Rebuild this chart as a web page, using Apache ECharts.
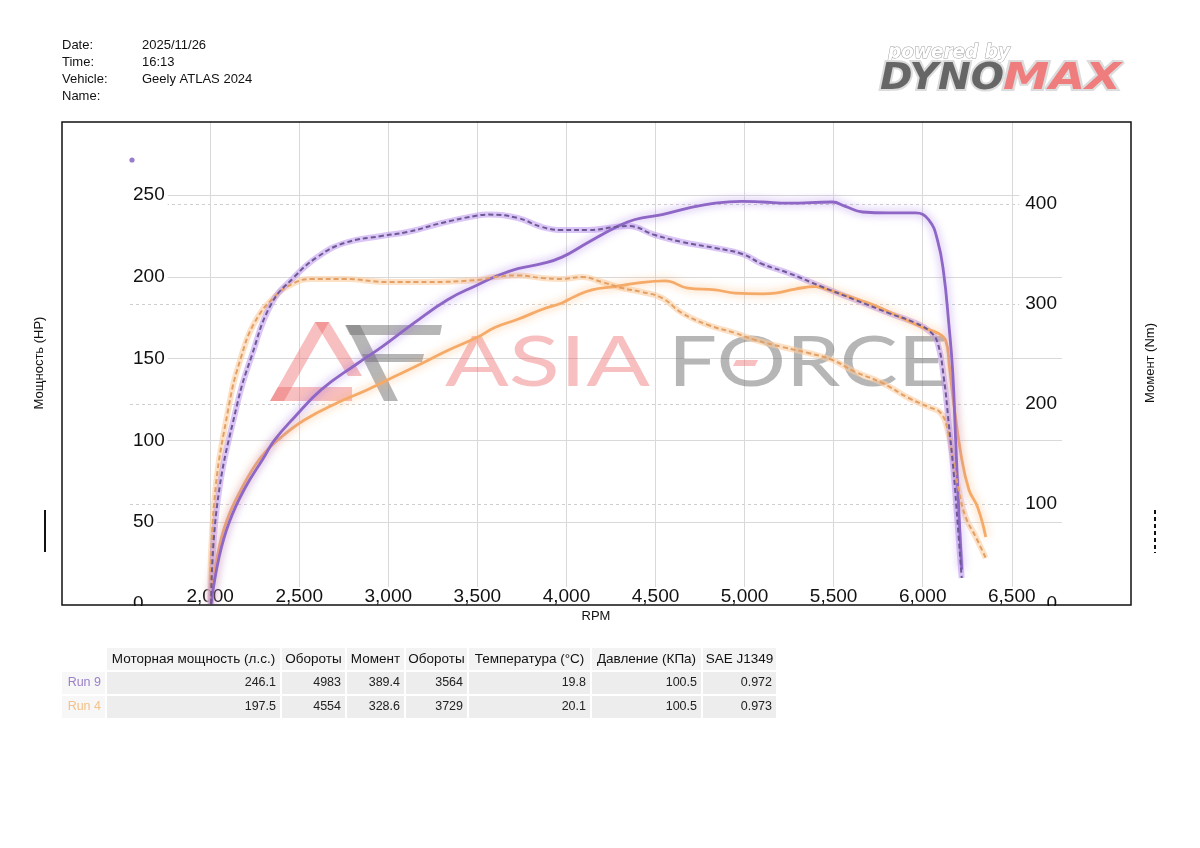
<!DOCTYPE html>
<html><head><meta charset="utf-8">
<script src="https://cdn.jsdelivr.net/npm/echarts@6/dist/echarts.min.js"></script>
<style>html,body{margin:0;padding:0;background:#fff}#c{width:1200px;height:848px}</style>
</head><body><div id="c"></div>
<script>
// ---------- data ----------
const infoLabels = ['Date:', 'Time:', 'Vehicle:', 'Name:'];
const infoValues = ['2025/11/26', '16:13', 'Geely ATLAS 2024', ''];

// [rpm, HP]
const run9Power = [[2005,0],[2051,29],[2107,50],[2191,70],[2304,90],[2360,100],[2472,114],[2624,131],[2827,147],[2962,157],[3147,172],[3333,186],[3500,195],[3598,200],[3727,205],[3862,208],[3975,212],[4121,221],[4273,230],[4385,235],[4537,238],[4683,242],[4835,245],[4983,246.1],[5099,245.7],[5246,245],[5493,245.7],[5566,243],[5662,239.6],[5808,239],[5960,239],[6033,235],[6084,222],[6118,202],[6146,172],[6169,141],[6185,100],[6202,59],[6219,21]];
// [rpm, Nm]
const run9Torque = [[2005,0],[2040,100],[2152,200],[2231,247],[2343,300],[2472,327],[2602,347],[2754,361],[2962,368],[3108,372],[3300,381],[3485,388],[3564,389.4],[3727,386],[3862,377],[3975,374],[4121,374],[4273,377],[4346,378],[4497,369],[4649,362],[4835,356],[4987,350],[5099,340],[5246,331],[5437,317],[5623,304],[5808,291],[5960,281],[6044,272],[6084,261],[6118,227],[6146,181],[6174,131],[6196,81],[6219,26]];
const run4Power = [[2003,0],[2040,29],[2090,50],[2174,70],[2287,90],[2399,102],[2529,112.5],[2714,123],[2883,131],[3035,139],[3187,147],[3333,155],[3500,163],[3598,169],[3727,174],[3862,180],[3975,184],[4047,188],[4143,192],[4273,194],[4385,196],[4554,197.5],[4683,193],[4835,192],[4947,190],[5099,189.5],[5172,190],[5285,192.5],[5397,194],[5471,192],[5583,188],[5718,183],[5848,176.6],[5999,169],[6084,165.6],[6129,161],[6150,145],[6169,127],[6214,92],[6259,70],[6309,59],[6354,41]];
const run4Torque = [[2000,0],[2022,100],[2107,200],[2174,247],[2248,281],[2360,307],[2472,321],[2568,325],[2754,325],[2996,322],[3221,322],[3502,324],[3598,327],[3729,328.6],[3862,326],[3975,325],[4087,327],[4199,322],[4312,316],[4424,312],[4537,306],[4649,291],[4796,279],[4947,271],[5060,264],[5212,257],[5358,251],[5493,244],[5623,232],[5774,221],[5921,206],[6033,197],[6101,191],[6140,174],[6169,147],[6202,114],[6241,87],[6298,67],[6354,46]];

const tableHeaders = ['Моторная мощность (л.с.)','Обороты','Момент','Обороты','Температура (°C)','Давление (КПа)','SAE J1349'];
const runNames = ['Run 9','Run 4'];
const run9Row = ['246.1','4983','389.4','3564','19.8','100.5','0.972'];
const run4Row = ['197.5','4554','328.6','3729','20.1','100.5','0.973'];

const axisNames = {x:'RPM', left:'Мощность (HP)', right:'Момент (Nm)'};

// ---------- layout ----------
const FONT = '"Liberation Sans", Arial, sans-serif';
const colX = [[107,280],[282,345],[347,404],[406,467],[469,590],[592,701],[703,776]];
const rowY = [[648,670],[672,694],[696,718]];

const mctx = document.createElement('canvas').getContext('2d');
function fit(text, font, w){ mctx.font = font; return w / mctx.measureText(text).width; }

const g = [];
// header info
infoLabels.forEach((t,i)=>{
  g.push({type:'text', x:62, y:45+17*i, style:{text:t, font:'13px '+FONT, fill:'#111', verticalAlign:'middle', textVerticalAlign:'middle'}});
  g.push({type:'text', x:142, y:45+17*i, style:{text:infoValues[i], font:'13px '+FONT, fill:'#111', verticalAlign:'middle', textVerticalAlign:'middle'}});
});

// DYNOMAX logo
(function(){
  const pf = 'italic bold 19px "DejaVu Sans", sans-serif';
  g.push({type:'text', x:888, y:53, scaleX: fit('powered by', pf, 122), style:{text:'powered by', font:pf, fill:'#fff', stroke:'#a0a0a0', lineWidth:1, verticalAlign:'middle', textVerticalAlign:'middle'}});
  const df = 'italic bold 38px "DejaVu Sans", sans-serif';
  const s1 = fit('DYNO', df, 124), s2 = fit('MAX', df, 118);
  [[880,'DYNO',s1,'#666'],[1003,'MAX',s2,'#ef7d7d']].forEach(([x,t,s,c])=>{
    g.push({type:'text', x:x, y:79, scaleX:s, style:{text:t, font:df, fill:'none', stroke:'#dcdcdc', lineWidth:4, verticalAlign:'middle', textVerticalAlign:'middle'}});
    g.push({type:'text', x:x, y:79, scaleX:s, style:{text:t, font:df, fill:c, verticalAlign:'middle', textVerticalAlign:'middle'}});
  });
})();

// watermark
(function(){
  const pink = 'rgba(236,96,96,0.40)', grey = 'rgba(110,110,110,0.50)';
  g.push({type:'polygon', z:1, shape:{points:[[270,401],[315,322],[329,322],[284,401]]}, style:{fill:pink}});
  g.push({type:'polygon', z:1, shape:{points:[[315,322],[329,322],[362,376],[348,376]]}, style:{fill:pink}});
  g.push({type:'polygon', z:1, shape:{points:[[278,387],[352,387],[352,401],[270,401]]}, style:{fill:pink}});
  g.push({type:'polygon', z:1, shape:{points:[[345,325],[442,325],[440,335],[350,335]]}, style:{fill:grey}});
  g.push({type:'polygon', z:1, shape:{points:[[362,354],[424,354],[422,362],[366,362]]}, style:{fill:grey}});
  g.push({type:'polygon', z:1, shape:{points:[[346,325],[360,325],[398,401],[384,401]]}, style:{fill:grey}});
  const wf = '400 70px Lato, "Open Sans", sans-serif';
  g.push({type:'text', z:1, x:445, y:363, scaleX: fit('ASIA', wf, 205), style:{text:'ASIA', font:wf, fill:pink, verticalAlign:'middle', textVerticalAlign:'middle'}});
  g.push({type:'text', z:1, x:668, y:363, scaleX: fit('FORCE', wf, 280), style:{text:'FORCE', font:wf, fill:grey, verticalAlign:'middle', textVerticalAlign:'middle'}});
  g.push({type:'polygon', z:1, shape:{points:[[736,360],[758,360],[755,366],[733,366]]}, style:{fill:pink}});
})();

// frame, legend marks, clip
g.push({type:'rect', z:10, shape:{x:62,y:122,width:1069,height:483}, style:{fill:'none', stroke:'#111', lineWidth:1.5}});
g.push({type:'rect', z:10, shape:{x:120,y:606,width:55,height:10}, style:{fill:'#fff'}});
g.push({type:'rect', z:10, shape:{x:1030,y:606,width:40,height:10}, style:{fill:'#fff'}});
g.push({type:'line', z:10, shape:{x1:45,y1:510,x2:45,y2:552}, style:{stroke:'#111', lineWidth:2}});
g.push({type:'line', z:10, shape:{x1:1155,y1:510,x2:1155,y2:553}, style:{stroke:'#111', lineWidth:2, lineDash:[4,3]}});
g.push({type:'circle', z:3, shape:{cx:132, cy:160, r:2.6}, style:{fill:'#9a7ccc'}});

// table
tableHeaders.forEach((h,i)=>{
  const [x0,x1] = colX[i];
  g.push({type:'rect', shape:{x:x0,y:rowY[0][0],width:x1-x0,height:rowY[0][1]-rowY[0][0]}, style:{fill:'#f3f3f3'}});
  g.push({type:'text', x:(x0+x1)/2, y:(rowY[0][0]+rowY[0][1])/2, style:{text:h, font:'13.5px '+FONT, fill:'#111', align:'center', textAlign:'center', verticalAlign:'middle', textVerticalAlign:'middle'}});
});
const runColors = ['#9b80c8','#f3c189'];
[run9Row, run4Row].forEach((row,r)=>{
  const [y0,y1] = rowY[r+1];
  g.push({type:'rect', shape:{x:62,y:y0,width:43,height:y1-y0}, style:{fill:'#f7f7f7'}});
  g.push({type:'text', x:101, y:(y0+y1)/2, style:{text:runNames[r], font:'12.5px '+FONT, fill:runColors[r], align:'right', textAlign:'right', verticalAlign:'middle', textVerticalAlign:'middle'}});
  row.forEach((v,i)=>{
    const [x0,x1] = colX[i];
    g.push({type:'rect', shape:{x:x0,y:y0,width:x1-x0,height:y1-y0}, style:{fill:'#ededed'}});
    g.push({type:'text', x:x1-4, y:(y0+y1)/2, style:{text:v, font:'12.5px '+FONT, fill:'#222', align:'right', textAlign:'right', verticalAlign:'middle', textVerticalAlign:'middle'}});
  });
});

// ---------- chart ----------
const chart = echarts.init(document.getElementById('c'), null, {renderer:'canvas'});
const labelCommon = {fontSize:19, fontFamily:FONT, color:'#111', backgroundColor:'#fff'};
const SM = 0.45;
function band(data, yIdx, color){
  return {type:'line', data, yAxisIndex:yIdx, symbol:'none', smooth:SM, silent:true, z:2,
    lineStyle:{color, width:6}};
}
function solid(data, yIdx, color, glow){
  return {type:'line', data, yAxisIndex:yIdx, symbol:'none', smooth:SM, silent:true, z:3,
    lineStyle:{color, width:2.8, shadowBlur:8, shadowColor:glow}};
}
function dashed(data, yIdx, color){
  return {type:'line', data, yAxisIndex:yIdx, symbol:'none', smooth:SM, silent:true, z:4,
    lineStyle:{color, width:2, type:[5,3]}};
}
chart.setOption({
  animation:false,
  backgroundColor:'#fff',
  grid:{left:130, right:138, top:122, bottom:244, containLabel:false, outerBoundsMode:'none'},
  xAxis:{type:'value', min:1550, max:6782, splitNumber:10, minInterval:500, maxInterval:500,
    name:axisNames.x, nameLocation:'middle', nameGap:6, nameMoveOverlap:false,
    nameTextStyle:{fontSize:13, fontFamily:FONT, color:'#111', verticalAlign:'top'},
    axisLine:{show:false}, axisTick:{show:false},
    axisLabel:Object.assign({inside:true, margin:-2, padding:[0,3,0,3], showMinLabel:false, showMaxLabel:false,
      formatter:v=> (v%500===0 ? v.toLocaleString('en-US') : '')}, labelCommon),
    splitLine:{show:true, showMinLine:false, showMaxLine:false, lineStyle:{color:'#d9d9d9', width:1}}},
  yAxis:[
    {type:'value', min:0, max:294.6, interval:50, position:'left',
      name:axisNames.left, nameLocation:'middle', nameRotate:90, nameGap:84, nameMoveOverlap:false,
      nameTextStyle:{fontSize:13, fontFamily:FONT, color:'#111'},
      axisLine:{show:false}, axisTick:{show:false},
      axisLabel:Object.assign({inside:true, margin:0, padding:[1,3,1,3], showMaxLabel:false}, labelCommon),
      splitLine:{show:true, showMaxLine:false, showMinLine:false, lineStyle:{color:'#d9d9d9', width:1}}},
    {type:'value', min:0, max:482, interval:100, position:'right',
      name:axisNames.right, nameLocation:'middle', nameRotate:90, nameGap:82, nameMoveOverlap:false,
      nameTextStyle:{fontSize:13, fontFamily:FONT, color:'#111'},
      axisLine:{show:false}, axisTick:{show:false},
      axisLabel:Object.assign({inside:true, margin:0, padding:[1,5,1,6], showMaxLabel:false}, labelCommon),
      splitLine:{show:true, showMaxLine:false, showMinLine:false, lineStyle:{color:'#cfcfcf', width:1, type:[3,3]}}}
  ],
  series:[
    band(run4Torque, 1, 'rgba(252,205,160,0.6)'),
    band(run9Torque, 1, 'rgba(190,150,238,0.55)'),
    solid(run4Power, 0, '#f5aa68', 'rgba(250,175,105,0.85)'),
    solid(run9Power, 0, '#8d66c6', 'rgba(155,105,228,0.8)'),
    dashed(run4Torque, 1, '#e2a066'),
    dashed(run9Torque, 1, '#6d5a94')
  ],
  graphic:{elements:g}
});
</script>
</body></html>
